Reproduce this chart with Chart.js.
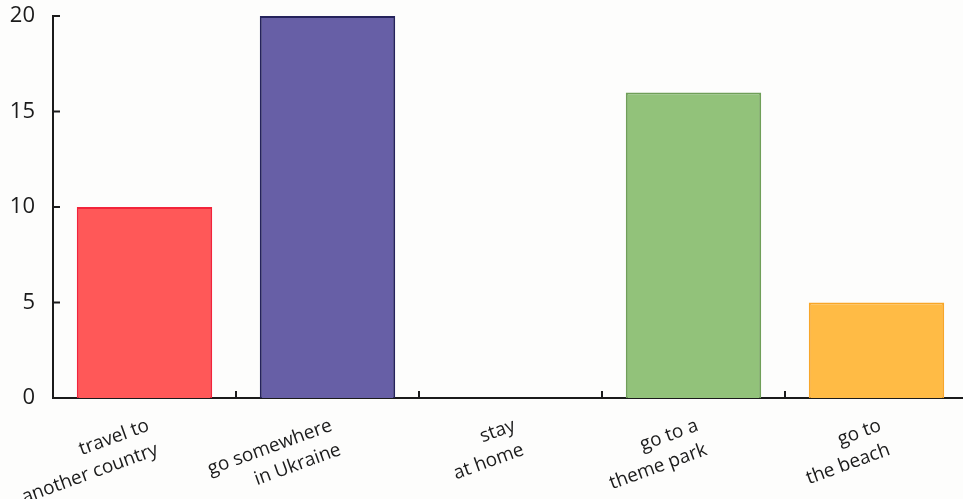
<!DOCTYPE html>
<html>
<head>
<meta charset="utf-8">
<script src="https://cdn.jsdelivr.net/npm/chart.js@4"></script>
<style>
  html, body { margin: 0; padding: 0; background: #fdfdfc; overflow: hidden; }
  #wrap { width: 968px; height: 499px; }
</style>
</head>
<body>
<div id="wrap"><canvas id="chart"></canvas></div>
<script>
  // data
  const categories = [
    ['travel to', 'another country'],
    ['go somewhere', 'in Ukraine'],
    ['stay', 'at home'],
    ['go to a', 'theme park'],
    ['go to', 'the beach']
  ];
  const values = [10, 20, 0, 16, 5];
  const yTicks = [0, 5, 10, 15, 20];

  const barColors = ['#ff5858', '#675fa6', '#92c27a', '#ffbb45'];
  const fills = [barColors[0], barColors[1], '#ffffff', barColors[2], barColors[3]];
  const borders = ['#f2243a', '#25235c', '#ffffff', '#6f9f58', '#f8a628'];

  const ink = '#1b1b1b';

  // short tick marks pointing into the plot, like the printed chart
  const innerTicks = {
    id: 'innerTicks',
    afterDatasetsDraw(chart) {
      const { ctx, scales: { x, y } } = chart;
      ctx.save();
      ctx.strokeStyle = ink;
      ctx.lineWidth = 2;
      ctx.beginPath();
      yTicks.forEach(v => {
        const py = y.getPixelForValue(v);
        ctx.moveTo(x.left, py);
        ctx.lineTo(x.left + 7, py);
      });
      for (let i = 0; i < categories.length - 1; i++) {
        const px = x.getPixelForValue(i + 0.5);
        ctx.moveTo(px, y.bottom);
        ctx.lineTo(px, y.bottom - 7);
      }
      ctx.stroke();
      ctx.restore();
    }
  };

  new Chart(document.getElementById('chart'), {
    type: 'bar',
    data: {
      labels: categories,
      datasets: [{
        data: values,
        backgroundColor: fills,
        borderColor: borders,
        borderWidth: 2,
        borderSkipped: 'bottom',
        barPercentage: 0.74,
        categoryPercentage: 1
      }]
    },
    options: {
      responsive: true,
      maintainAspectRatio: false,
      animation: false,
      layout: { padding: { top: 16, right: 0, left: 0, bottom: 0 } },
      plugins: { legend: { display: false }, tooltip: { enabled: false } },
      scales: {
        x: {
          grid: { display: false, drawTicks: false },
          border: { display: true, color: ink, width: 2 },
          afterFit: s => {
            s.height = 101;
            s.paddingLeft = 0;
            s.paddingRight = 0;
          },
          ticks: {
            color: ink,
            font: { family: 'Open Sans', size: 19, lineHeight: 1.35 },
            maxRotation: 20,
            minRotation: 20,
            padding: 15,
            labelOffset: 4,
            autoSkip: false
          }
        },
        y: {
          min: 0,
          max: 20,
          grid: { display: false, drawTicks: false },
          border: { display: true, color: ink, width: 2 },
          afterBuildTicks: s => { s.ticks = yTicks.map(v => ({ value: v })); },
          afterFit: s => {
            s.width = 53;
            s.paddingTop = 0;
            s.paddingBottom = 0;
          },
          ticks: {
            color: ink,
            font: { family: 'Open Sans', size: 22 },
            padding: 18
          }
        }
      }
    },
    plugins: [innerTicks]
  });
</script>
</body>
</html>
